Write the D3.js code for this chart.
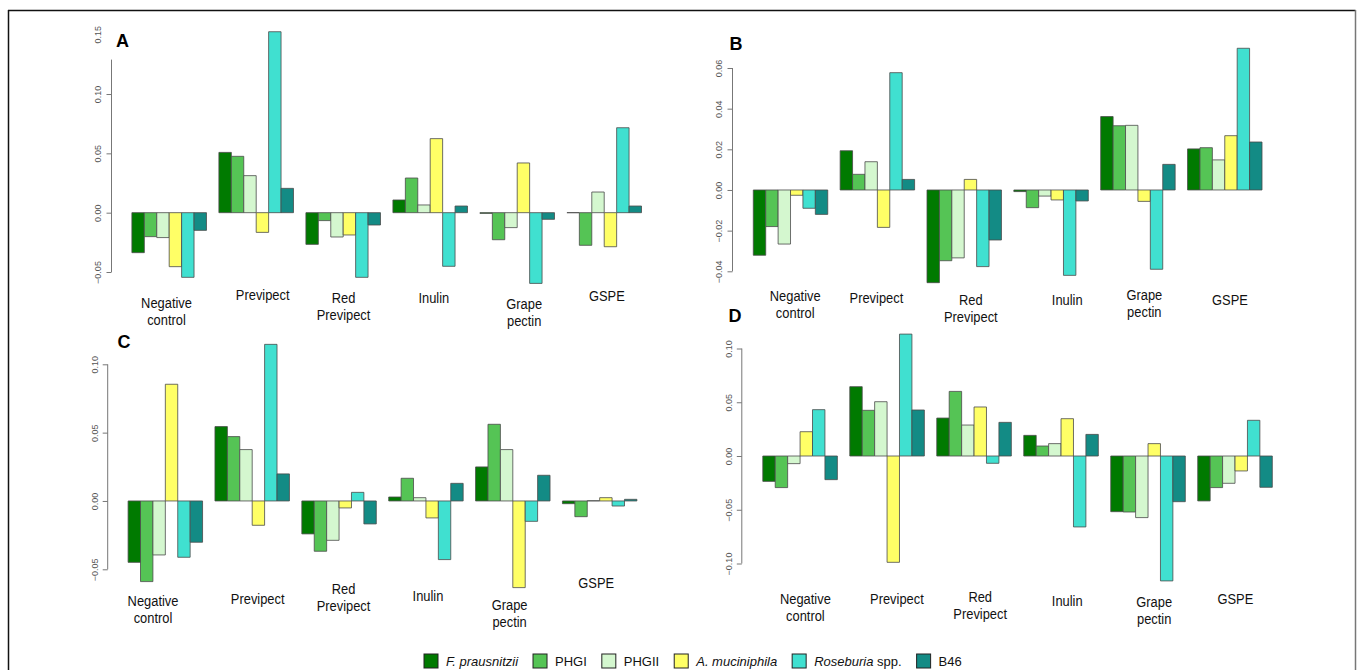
<!DOCTYPE html>
<html><head><meta charset="utf-8">
<script src="https://cdn.jsdelivr.net/npm/d3@7"></script>
<style>body{margin:0;background:#fff}svg{display:block}</style>
</head><body>
<svg id="c" width="1360" height="670"></svg>
<script>
// ---------- data ----------
const categories = ["Negative control","Previpect","Red Previpect","Inulin","Grape pectin","GSPE"];
const seriesNames = ["F. prausnitzii","PHGI","PHGII","A. muciniphila","Roseburia spp.","B46"];
const seriesColors = ["#007a00","#55c455","#d4f7cf","#ffff66","#40e0d0","#138b85"];
// rows = categories, columns = series
const valuesA = [
  [-0.0337,-0.0202,-0.0210,-0.0455,-0.0545,-0.0149],
  [ 0.0508, 0.0475, 0.0312,-0.0166, 0.1525, 0.0205],
  [-0.0267,-0.0067,-0.0205,-0.0188,-0.0545,-0.0104],
  [ 0.0107, 0.0292, 0.0065, 0.0624,-0.0452, 0.0056],
  [-0.0006,-0.0228,-0.0126, 0.0419,-0.0596,-0.0056],
  [ 0.0000,-0.0275, 0.0174,-0.0287, 0.0716, 0.0056]
];
const valuesB = [
  [-0.0321,-0.0180,-0.0266,-0.0026,-0.0090,-0.0120],
  [ 0.0193, 0.0077, 0.0139,-0.0184, 0.0577, 0.0052],
  [-0.0456,-0.0348,-0.0334, 0.0052,-0.0377,-0.0246],
  [-0.0008,-0.0087,-0.0030,-0.0049,-0.0420,-0.0054],
  [ 0.0361, 0.0316, 0.0318,-0.0056,-0.0390, 0.0126],
  [ 0.0202, 0.0208, 0.0148, 0.0267, 0.0697, 0.0236]
];
const valuesC = [
  [-0.0449,-0.0590,-0.0395, 0.0854,-0.0412,-0.0302],
  [ 0.0544, 0.0471, 0.0376,-0.0178, 0.1146, 0.0198],
  [-0.0241,-0.0368,-0.0288,-0.0051, 0.0063,-0.0168],
  [ 0.0029, 0.0166, 0.0024,-0.0124,-0.0429, 0.0129],
  [ 0.0249, 0.0561, 0.0376,-0.0634,-0.0149, 0.0188],
  [-0.0020,-0.0115, 0.0002, 0.0024,-0.0037, 0.0012]
];
const valuesD = [
  [-0.0236,-0.0294,-0.0071, 0.0226, 0.0431,-0.0220],
  [ 0.0645, 0.0425, 0.0505,-0.0989, 0.1134, 0.0428],
  [ 0.0353, 0.0601, 0.0288, 0.0456,-0.0068, 0.0313],
  [ 0.0192, 0.0093, 0.0115, 0.0347,-0.0660, 0.0201],
  [-0.0518,-0.0521,-0.0573, 0.0115,-0.1162,-0.0425],
  [-0.0418,-0.0294,-0.0254,-0.0139, 0.0332,-0.0291]
];
const ticksA = [-0.05, 0.00, 0.05, 0.10];
const ticksB = [-0.04, -0.02, 0.00, 0.02, 0.04, 0.06];
const ticksC = [-0.05, 0.00, 0.05, 0.10];
const ticksD = [-0.10, -0.05, 0.00, 0.05, 0.10];
const extraTickLabelA = [0.15];

// ---------- layout ----------
const panels = [
  {letter:"A", vals:valuesA, ticks:ticksA, extra:extraTickLabelA, letterPos:[122.5,47],
   axisX:111.5, x0:131.9, x1:641.5, dom:[-0.05,0.15], rng:[272,34.7], axisTop:0.129,
   labels:[[166.5,302.7],[262.7,294.3],[343.5,297.3],[433.8,297.3],[524.2,304],[606.9,295.7]]},
  {letter:"B", vals:valuesB, ticks:ticksB, extra:[], letterPos:[736,50],
   axisX:732.5, x0:753.3, x1:1262, dom:[-0.04,0.06], rng:[271.3,68], axisTop:0.06,
   labels:[[795.2,296],[876.4,297.7],[970.8,299.3],[1067.2,299.3],[1144.3,295],[1230,299.3]]},
  {letter:"C", vals:valuesC, ticks:ticksC, extra:[], letterPos:[124,348],
   axisX:107.7, x0:128.1, x1:636.9, dom:[-0.05,0.10], rng:[569.3,364.3], axisTop:0.10,
   labels:[[153,601],[257.7,598.3],[343.5,588.3],[428,596],[509.6,604.3],[596.2,582.7]]},
  {letter:"D", vals:valuesD, ticks:ticksD, extra:[], letterPos:[735,321.5],
   axisX:741.8, x0:762.8, x1:1272.3, dom:[-0.10,0.10], rng:[563.5,348.5], axisTop:0.10,
   labels:[[805.4,598.3],[896.9,598.3],[980.2,596.7],[1067.2,601],[1154.2,601.7],[1235.4,598.3]]}
];

const svg = d3.select("#c");
const FONT = "'Liberation Sans', Arial, sans-serif";

// frame
svg.append("line").attr("x1",8).attr("y1",10.5).attr("x2",1355.5).attr("y2",10.5).attr("stroke","#111").attr("stroke-width",1.5);
svg.append("line").attr("x1",8.5).attr("y1",10).attr("x2",8.5).attr("y2",670).attr("stroke","#111").attr("stroke-width",1.5);
svg.append("line").attr("x1",1355.5).attr("y1",10).attr("x2",1355.5).attr("y2",670).attr("stroke","#777").attr("stroke-width",1.5);

const nUnits = categories.length*7 - 1;
panels.forEach(p => {
  const g = svg.append("g");
  const y = d3.scaleLinear().domain(p.dom).range(p.rng);
  const xu = d3.scaleLinear().domain([0, nUnits]).range([p.x0, p.x1]);
  const bw = xu(1) - xu(0);

  // axis
  const axis = d3.axisLeft(y).tickValues(p.ticks).tickSize(5).tickFormat(d3.format(".2f"));
  const ag = g.append("g").attr("transform",`translate(${p.axisX},0)`).call(axis);
  ag.select(".domain").remove();
  ag.append("line").attr("x1",0).attr("x2",0).attr("y1",y(p.axisTop)).attr("y2",y(p.dom[0]))
    .attr("stroke","#777").attr("stroke-width",1);
  ag.selectAll(".tick line").attr("stroke","#777");
  ag.selectAll(".tick text").attr("fill","#555").attr("font-size",9).attr("font-family",FONT)
    .attr("x",null).attr("dy",null).attr("text-anchor","middle")
    .attr("transform","translate(-13,0) rotate(-90)").attr("dy","0.32em");
  p.extra.forEach(v => {
    ag.append("text").attr("fill","#555").attr("font-size",9).attr("font-family",FONT)
      .attr("text-anchor","middle").attr("dy","0.32em")
      .attr("transform",`translate(-13,${y(v)}) rotate(-90)`).text(d3.format(".2f")(v));
  });

  // bars
  p.vals.forEach((row, ci) => {
    row.forEach((v, si) => {
      const x = xu(ci*7 + si);
      const y0 = y(0), y1 = y(v);
      g.append("path")
        .attr("d", `M${x},${y0}H${x+bw}V${y1}H${x}Z`)
        .attr("fill", seriesColors[si]).attr("stroke","#4a4a4a").attr("stroke-width",0.8);
    });
  });

  // category labels
  categories.forEach((c, ci) => {
    const [lx, ly] = p.labels[ci];
    const words = c.split(" ");
    const lines = c === "Previpect" ? [c] : (words.length > 1 ? [words[0], words.slice(1).join(" ")] : [c]);
    lines.forEach((ln, li) => {
      g.append("text").attr("font-family",FONT).attr("font-size",15).attr("fill","#111")
        .attr("text-anchor","middle")
        .attr("transform",`translate(${lx},${ly + 5.3 + li*17}) scale(0.86,1)`)
        .text(ln);
    });
  });

  // letter
  g.append("text").attr("x",p.letterPos[0]).attr("y",p.letterPos[1]).attr("text-anchor","middle")
    .attr("font-family",FONT).attr("font-weight","bold").attr("font-size",18).attr("fill","#000").text(p.letter);
});

// legend
const lg = svg.append("g");
let lx = 424;
const ly = 661;
seriesNames.forEach((s, i) => {
  lg.append("rect").attr("x",lx).attr("y",ly-7).attr("width",14).attr("height",14)
    .attr("fill",seriesColors[i]).attr("stroke","#222").attr("stroke-width",1);
  const t = lg.append("text").attr("x",lx+22).attr("y",ly+4.6).attr("font-family",FONT)
    .attr("font-size",13).attr("fill","#111");
  if (i === 0 || i === 3) t.attr("font-style","italic").text(s);
  else if (i === 4) { t.append("tspan").attr("font-style","italic").text("Roseburia"); t.append("tspan").text(" spp."); }
  else t.text(s);
  lx += 22 + t.node().getComputedTextLength() + 15;
});
</script>
</body></html>
